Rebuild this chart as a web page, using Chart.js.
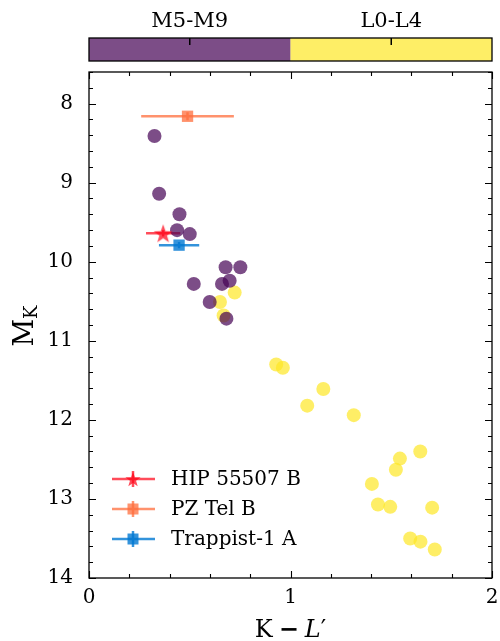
<!DOCTYPE html>
<html>
<head>
<meta charset="utf-8">
<script src="https://cdn.jsdelivr.net/npm/chart.js@4"></script>
<style>
  body { margin: 0; background: #fff; }
  #c { display: block; }
</style>
</head>
<body>
<canvas id="c" width="500" height="641"></canvas>
<script>
// M5-M9 field objects
let mX = [0.325, 0.348, 0.449, 0.437, 0.50, 0.678, 0.751, 0.52, 0.66, 0.698, 0.599, 0.682];
let mY = [8.41, 9.14, 9.40, 9.60, 9.65, 10.07, 10.07, 10.28, 10.28, 10.24, 10.51, 10.72];
// L0-L4 field objects
let lX = [0.723, 0.65, 0.668, 0.929, 0.962, 1.163, 1.083, 1.314, 1.644, 1.543, 1.523, 1.404, 1.434, 1.495, 1.703, 1.594, 1.645, 1.716];
let lY = [10.39, 10.51, 10.68, 11.30, 11.34, 11.61, 11.82, 11.94, 12.40, 12.49, 12.63, 12.81, 13.07, 13.10, 13.11, 13.50, 13.54, 13.64];

// named objects
let objNames = ['HIP 55507 B', 'PZ Tel B', 'Trappist-1 A'];
let objX = [0.368, 0.489, 0.447];
let objY = [9.64, 8.16, 9.79];
let objXerr = [0.085, 0.23, 0.10];
let objYerr = [0.04, 0.05, 0.04];
let objColors = ['rgba(255,0,20,0.7)', 'rgba(255,110,60,0.75)', 'rgba(0,120,210,0.8)'];

// colorbar
let binNames = ['M5-M9', 'L0-L4'];
let binEdges = [0, 1, 2];
let binColors = ['rgba(68,1,84,0.7)', 'rgba(253,231,37,0.7)'];

let xTicks = [0, 1, 2];
let yTicks = [8, 9, 10, 11, 12, 13, 14];

const SERIF = '"DejaVu Serif", "Liberation Serif", serif';

let makeStar = (r, color) => {
    let cv = document.createElement('canvas');
    cv.width = Math.ceil(r * 2 + 2);
    cv.height = Math.ceil(r * 2 + 2);
    let g = cv.getContext('2d');
    let cx = cv.width / 2, cy = cv.height / 2 + r * 0.1;
    g.beginPath();
    for (let i = 0; i < 10; i++) {
        let rad = (i % 2 == 0) ? r : r * 0.4;
        let a = -Math.PI / 2 + i * Math.PI / 5;
        g.lineTo(cx + rad * Math.cos(a), cy + rad * Math.sin(a));
    }
    g.closePath();
    g.fillStyle = color;
    g.fill();
    return cv;
};
let starBig = makeStar(10, objColors[0]);
let starSmall = makeStar(8, objColors[0]);

let pts = (xs, ys) => xs.map((x, i) => ({x: x, y: ys[i]}));

let deco = {
    id: 'deco',
    beforeDatasetsDraw(chart) {
        let ctx = chart.ctx, xs = chart.scales.x, ys = chart.scales.y;
        ctx.save();
        ctx.lineWidth = 2.5;
        for (let i = 0; i < objNames.length; i++) {
            ctx.strokeStyle = objColors[i];
            let px = xs.getPixelForValue(objX[i]), py = ys.getPixelForValue(objY[i]);
            ctx.beginPath();
            ctx.moveTo(xs.getPixelForValue(objX[i] - objXerr[i]), py);
            ctx.lineTo(xs.getPixelForValue(objX[i] + objXerr[i]), py);
            ctx.moveTo(px, ys.getPixelForValue(objY[i] - objYerr[i]));
            ctx.lineTo(px, ys.getPixelForValue(objY[i] + objYerr[i]));
            ctx.stroke();
        }
        ctx.restore();
    },
    afterDraw(chart) {
        let ctx = chart.ctx, xs = chart.scales.x, ys = chart.scales.y;
        let a = chart.chartArea;
        ctx.save();

        // frame
        ctx.strokeStyle = '#000';
        ctx.lineWidth = 1.3;
        ctx.strokeRect(a.left, a.top, a.right - a.left, a.bottom - a.top);

        // ticks on all four sides, pointing in
        ctx.lineWidth = 1.1;
        ctx.beginPath();
        for (let v = 0; v <= 2.0001; v += 0.2) {
            let p = Math.round(xs.getPixelForValue(v)) + 0.5;
            let major = Math.abs(v - Math.round(v)) < 1e-6;
            let len = major ? 7 : 4;
            ctx.moveTo(p, a.bottom); ctx.lineTo(p, a.bottom - len);
            ctx.moveTo(p, a.top); ctx.lineTo(p, a.top + len);
        }
        for (let v = 7.6; v <= 14.0001; v += 0.2) {
            let p = Math.round(ys.getPixelForValue(v)) + 0.5;
            let major = Math.abs(v - Math.round(v)) < 1e-6;
            let len = major ? 7 : 4;
            ctx.moveTo(a.left, p); ctx.lineTo(a.left + len, p);
            ctx.moveTo(a.right, p); ctx.lineTo(a.right - len, p);
        }
        ctx.stroke();

        // colorbar
        let top = 38, h = 23;
        for (let i = 0; i < binNames.length; i++) {
            let x0 = xs.getPixelForValue(binEdges[i]), x1 = xs.getPixelForValue(binEdges[i + 1]);
            ctx.fillStyle = binColors[i];
            ctx.fillRect(x0, top, x1 - x0, h);
            let xc = xs.getPixelForValue((binEdges[i] + binEdges[i + 1]) / 2);
            ctx.strokeStyle = '#000';
            ctx.lineWidth = 1.5;
            ctx.beginPath();
            ctx.moveTo(xc, top); ctx.lineTo(xc, top + 7);
            ctx.stroke();
            ctx.fillStyle = '#000';
            ctx.font = '21px ' + SERIF;
            ctx.textAlign = 'center';
            ctx.textBaseline = 'alphabetic';
            ctx.fillText(binNames[i], xc, 27);
        }
        ctx.strokeStyle = '#000';
        ctx.lineWidth = 1.3;
        ctx.strokeRect(a.left, top, a.right - a.left, h);

        // x label: K - L'
        ctx.fillStyle = '#000';
        ctx.textBaseline = 'alphabetic';
        ctx.textAlign = 'left';
        ctx.font = '24px ' + SERIF;
        let wK = ctx.measureText('K').width;
        let wP = ctx.measureText('\u2032').width;
        ctx.font = 'bold 24px ' + SERIF;
        let wMin = ctx.measureText('\u2212').width;
        ctx.font = 'italic 24px ' + SERIF;
        let wL = ctx.measureText('L').width;
        let gap = 6;
        let total = wK + gap + wMin + gap + wL + wP;
        let sx = (a.left + a.right) / 2 - total / 2;
        let base = 637;
        ctx.font = '24px ' + SERIF;
        ctx.fillText('K', sx, base);
        ctx.font = 'bold 24px ' + SERIF;
        ctx.fillText('\u2212', sx + wK + gap, base);
        ctx.font = 'italic 24px ' + SERIF;
        ctx.fillText('L', sx + wK + gap + wMin + gap, base);
        ctx.font = '24px ' + SERIF;
        ctx.fillText('\u2032', sx + wK + gap + wMin + gap + wL, base);

        // y label: M_K
        ctx.save();
        ctx.translate(33, 326);
        ctx.rotate(-Math.PI / 2);
        ctx.font = '27px ' + SERIF;
        let wm = ctx.measureText('M').width;
        ctx.font = '18px ' + SERIF;
        let wk = ctx.measureText('K').width;
        ctx.font = '27px ' + SERIF;
        ctx.fillText('M', -(wm + wk) / 2, 0);
        ctx.font = '18px ' + SERIF;
        ctx.fillText('K', -(wm + wk) / 2 + wm, 4);
        ctx.restore();

        // legend
        let ly = [479, 509, 539];
        for (let i = 0; i < objNames.length; i++) {
            let cx = 133, cy = ly[i];
            ctx.strokeStyle = objColors[i];
            ctx.lineWidth = 2.5;
            ctx.beginPath();
            ctx.moveTo(112, cy); ctx.lineTo(155, cy);
            ctx.moveTo(cx, cy - 8); ctx.lineTo(cx, cy + 8);
            ctx.stroke();
            if (i == 0) {
                ctx.drawImage(starSmall, cx - starSmall.width / 2, cy - starSmall.height / 2);
            } else {
                ctx.fillStyle = objColors[i];
                ctx.fillRect(cx - 5.5, cy - 5.5, 11, 11);
            }
            ctx.fillStyle = '#000';
            ctx.font = '20px ' + SERIF;
            ctx.textBaseline = 'middle';
            ctx.fillText(objNames[i], 171, cy + 1);
        }
        ctx.restore();
    }
};

new Chart(document.getElementById('c'), {
    type: 'scatter',
    data: {
        datasets: [
            {label: 'M5-M9', data: pts(mX, mY), backgroundColor: binColors[0], pointRadius: 7, borderWidth: 0, order: 3},
            {label: 'L0-L4', data: pts(lX, lY), backgroundColor: binColors[1], pointRadius: 7, borderWidth: 0, order: 4},
            {label: objNames[0], data: [{x: objX[0], y: objY[0]}], pointStyle: starBig, order: 0},
            {label: objNames[1], data: [{x: objX[1], y: objY[1]}], pointStyle: 'rect', pointRadius: 8, backgroundColor: objColors[1], borderWidth: 0, order: 1},
            {label: objNames[2], data: [{x: objX[2], y: objY[2]}], pointStyle: 'rect', pointRadius: 8, backgroundColor: objColors[2], borderWidth: 0, order: 2}
        ]
    },
    options: {
        responsive: false,
        animation: false,
        layout: {padding: {left: 0, right: 7, top: 72, bottom: 0}},
        plugins: {legend: {display: false}, tooltip: {enabled: false}},
        scales: {
            x: {
                type: 'linear', min: 0, max: 2,
                afterBuildTicks: s => { s.ticks = xTicks.map(v => ({value: v})); },
                afterFit: s => { s.height = 63; s.paddingLeft = 0; s.paddingRight = 0; },
                grid: {display: false, drawTicks: false},
                border: {display: false},
                ticks: {color: '#000', padding: 8, font: {family: SERIF, size: 20}}
            },
            y: {
                type: 'linear', min: 7.6, max: 14, reverse: true,
                afterBuildTicks: s => { s.ticks = yTicks.map(v => ({value: v})); },
                afterFit: s => { s.width = 89; s.paddingTop = 0; s.paddingBottom = 0; },
                grid: {display: false, drawTicks: false},
                border: {display: false},
                ticks: {color: '#000', padding: 16, font: {family: SERIF, size: 20}}
            }
        }
    },
    plugins: [deco]
});
</script>
</body>
</html>
